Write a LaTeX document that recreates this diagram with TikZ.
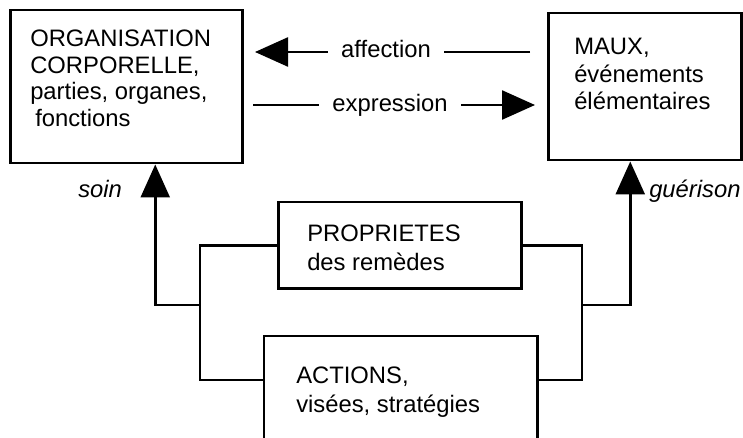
\documentclass[tikz,border=0pt]{standalone}
\usepackage{fontspec}
\setmainfont{Liberation Sans}
\usetikzlibrary{arrows.meta}
\begin{document}
\begin{tikzpicture}[x=1pt,y=-1pt,
  line width=2.5pt,
  box/.style={draw,line width=2.5pt,inner sep=0pt,anchor=north west},
  txt/.style={anchor=base west,inner sep=0pt,align=left,font=\fontsize{23.8}{27}\selectfont},
  lbl/.style={anchor=base,inner sep=0pt,fill=white,font=\fontsize{23.8}{27}\selectfont},
  ital/.style={anchor=base west,inner sep=0pt,font=\fontsize{23.8}{27}\selectfont\itshape},
  arr/.style={-{Triangle[length=33pt,width=29pt]},line width=2.5pt}]
\useasboundingbox (0,0) rectangle (743,438);
% boxes
\node[box,minimum width=232pt,minimum height=153pt] (L) at (9,9) {};
\node[box,minimum width=193pt,minimum height=147pt] (R) at (547,12) {};
\node[box,minimum width=243pt,minimum height=86pt] (P) at (277,201) {};
\node[inner sep=0pt,anchor=north west,minimum width=271pt,minimum height=103pt] (A) at (264,336) {};
\draw (A.south west) -- (A.north west) -- (A.north east) -- (A.south east);
% texts
\node[txt] (tL1) at (29,47) {ORGANISATION};
\node[txt] (tL2) at (29,74) {CORPORELLE,};
\node[txt] (tL3) at (29,100) {parties, organes,};
\node[txt] (tL4) at (34,127) {fonctions};
\node[txt] (tR1) at (573,55) {MAUX,};
\node[txt] (tR2) at (573,83) {événements};
\node[txt] (tR3) at (573,110) {élémentaires};
\node[txt] (tP1) at (306,241) {PROPRIETES};
\node[txt] (tP2) at (306,270) {des remèdes};
\node[txt] (tA1) at (295,383) {ACTIONS,};
\node[txt] (tA2) at (295,412) {visées, stratégies};
% horizontal arrows
\coordinate (a1) at (530,52);
\coordinate (a2) at (255,52);
\coordinate (e1) at (253,105);
\coordinate (e2) at (535,105);
\draw[arr] (a1) -- (a2);
\draw[arr] (e1) -- (e2);
\node[lbl,inner xsep=13pt] (laff) at (386,58) {affection};
\node[lbl,inner xsep=13pt] (lexp) at (390,112) {expression};
% brackets
\coordinate (lb) at (200,305);
\coordinate (rb) at (582,305);
\draw (P.west) -| (lb) |- ([yshift=-44pt]A.north west);
\draw (P.east) -| (rb) |- ([yshift=-44pt]A.north east);
\draw[arr] (lb) -| ([xshift=29pt]L.south);
\draw[arr] (rb) -| ([xshift=-14.5pt]R.south);
\node[ital] (soin) at (77,197) {soin};
\node[ital] (gue) at (648,197) {guérison};
\end{tikzpicture}
\end{document}
